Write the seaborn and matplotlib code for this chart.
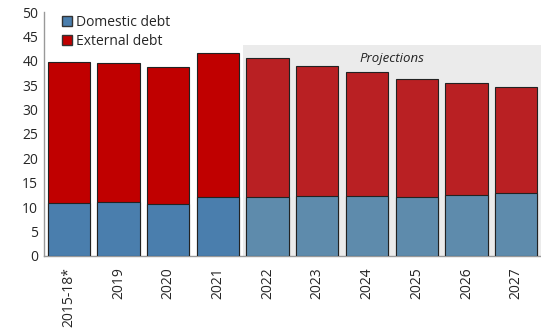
import pandas as pd
import seaborn as sns
import matplotlib.pyplot as plt
from matplotlib.patches import Patch, Rectangle

years = ['2015-18*', '2019', '2020', '2021', '2022', '2023', '2024', '2025', '2026', '2027']
domestic = [10.9, 11.0, 10.7, 12.1, 12.1, 12.2, 12.2, 12.1, 12.4, 12.9]
total = [39.8, 39.6, 38.7, 41.6, 40.5, 39.0, 37.8, 36.3, 35.4, 34.6]
projected = [False, False, False, False, True, True, True, True, True, True]

df = pd.DataFrame({'Year': years, 'Domestic': domestic, 'Total': total, 'Projected': projected})

dom_hist, dom_proj = '#4A7EAD', '#5E8BAC'
ext_hist, ext_proj = '#C00000', '#B92023'
dom_colors = [dom_proj if p else dom_hist for p in projected]
ext_colors = [ext_proj if p else ext_hist for p in projected]

sns.set_style('white')
plt.rcParams['font.family'] = ['Open Sans', 'DejaVu Sans']

fig = plt.figure(figsize=(5.41, 3.28), dpi=100)
ax = fig.add_axes([0.081, 0.22, 0.919, 0.743])

# projection shading
first_proj = projected.index(True)
ax.add_patch(Rectangle((first_proj - 0.5, 0), len(years) - first_proj, 43.2,
                       facecolor='#EBEBEB', edgecolor='none', zorder=0))
ax.text((first_proj - 0.5 + len(years) - 0.5) / 2, 40.5, 'Projections',
        ha='center', va='center', fontsize=9.5, style='italic', color='#222222')

sns.barplot(data=df, x='Year', y='Total', hue='Year', palette=ext_colors, legend=False,
            width=0.85, edgecolor='#222222', linewidth=0.8, saturation=1, ax=ax, zorder=2)
sns.barplot(data=df, x='Year', y='Domestic', hue='Year', palette=dom_colors, legend=False,
            width=0.85, edgecolor='#222222', linewidth=0.8, saturation=1, ax=ax, zorder=3)

ax.set_xlim(-0.5, len(years) - 0.5)
ax.set_ylim(0, 50)
ax.set_yticks(range(0, 51, 5))
ax.set_xlabel('')
ax.set_ylabel('')
ax.tick_params(axis='x', rotation=90, labelsize=10, length=0, pad=8)
ax.tick_params(axis='y', labelsize=10, length=3, direction='in', color='#999999', pad=4)
for s in ['top', 'right']:
    ax.spines[s].set_visible(False)
for s in ['left', 'bottom']:
    ax.spines[s].set_color('#999999')
    ax.spines[s].set_linewidth(1)

handles = [Patch(facecolor=dom_hist, edgecolor='#333333', label='Domestic debt'),
           Patch(facecolor=ext_hist, edgecolor='#333333', label='External debt')]
ax.legend(handles=handles, loc='upper left', bbox_to_anchor=(0.036, 0.988), frameon=False,
          fontsize=10, handlelength=0.75, handleheight=0.75, handletextpad=0.25,
          labelspacing=0.3, borderaxespad=0, borderpad=0)

fig.savefig('out.png', dpi=100)
